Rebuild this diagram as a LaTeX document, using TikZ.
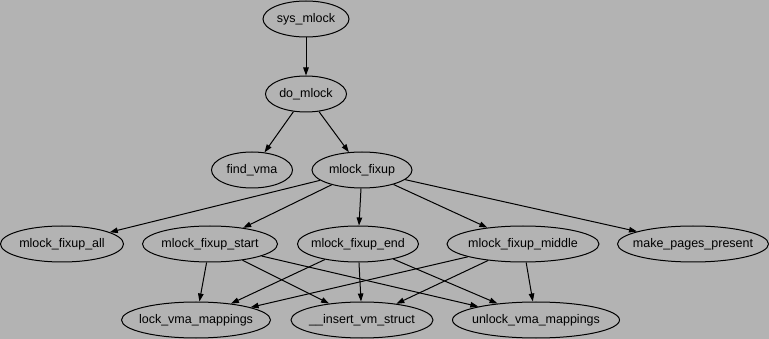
\documentclass[tikz,border=0pt]{standalone}
\usepackage{fontspec}
\setmainfont{Liberation Sans}
\usepackage{tikz}
\usetikzlibrary{arrows.meta,shapes.geometric}

\definecolor{bggray}{RGB}{179,179,179}
\newcommand{\fname}[1]{\makebox[0pt]{#1}}

\begin{document}
\begin{tikzpicture}[
    x=1pt, y=-1pt,
    fn/.style={draw, ellipse, line width=1pt, inner sep=0pt, minimum height=36pt, font=\fontsize{12.5}{14}\selectfont},
    arr/.style={-{Triangle[length=8pt,width=5.5pt]}, line width=1pt}
]
\fill[bggray] (0,0) rectangle (769,339);
\useasboundingbox (0,0) rectangle (769,339);

\node[fn, minimum width=86pt] (sysmlock) at (306,19) {\fname{sys\_mlock}};
\node[fn, minimum width=81pt] (domlock) at (306,94) {\fname{do\_mlock}};
\node[fn, minimum width=81pt] (findvma) at (252,170) {\fname{find\_vma}};
\node[fn, minimum width=100pt] (fixup) at (362,170) {\fname{mlock\_fixup}};

\node[fn, minimum width=123pt] (fixall) at (62,244) {\fname{mlock\_fixup\_all}};
\node[fn, minimum width=135pt] (fixstart) at (210,244) {\fname{mlock\_fixup\_start}};
\node[fn, minimum width=121pt] (fixend) at (358,244) {\fname{mlock\_fixup\_end}};
\node[fn, minimum width=152pt] (fixmiddle) at (523,244) {\fname{mlock\_fixup\_middle}};
\node[fn, minimum width=151pt] (pagespresent) at (693,244) {\fname{make\_pages\_present}};

\node[fn, minimum width=149pt] (lockvma) at (196,320) {\fname{lock\_vma\_mappings}};
\node[fn, minimum width=142pt] (insertvm) at (362,320) {\fname{\_\_insert\_vm\_struct}};
\node[fn, minimum width=167pt] (unlockvma) at (536,320) {\fname{unlock\_vma\_mappings}};

\draw[arr] (sysmlock) -- (domlock);
\draw[arr] (domlock) -- (findvma);
\draw[arr] (domlock) -- (fixup);

\foreach \t in {fixall,fixstart,fixend,fixmiddle,pagespresent}
    \draw[arr] (fixup) -- (\t);

\foreach \s in {fixstart,fixend,fixmiddle}
    \foreach \t in {lockvma,insertvm,unlockvma}
        \draw[arr] (\s) -- (\t);
\end{tikzpicture}
\end{document}
